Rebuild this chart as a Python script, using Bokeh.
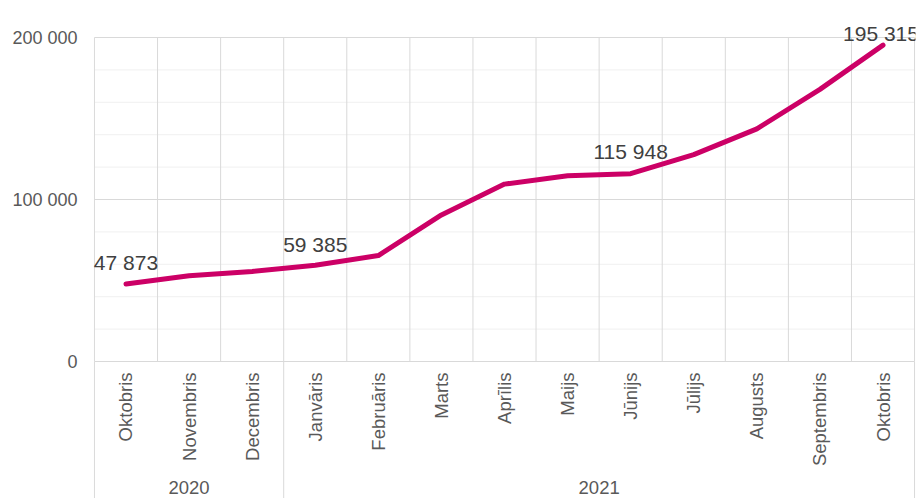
import math
from bokeh.plotting import figure
from bokeh.models import Range1d, FixedTicker
from bokeh.core.properties import value
from bokeh.embed import file_html
from bokeh.resources import INLINE

# ---- data ----
years = ["2020", "2020", "2020", "2021", "2021", "2021", "2021", "2021", "2021",
         "2021", "2021", "2021", "2021"]
months = ["Oktobris", "Novembris", "Decembris", "Janvāris", "Februāris", "Marts",
          "Aprīlis", "Maijs", "Jūnijs", "Jūlijs", "Augusts", "Septembris", "Oktobris"]
counts = [47873, 52900, 55600, 59385, 65400, 90500, 109500, 114600, 115948,
          127700, 143600, 168000, 195315]
labelled_idx = [0, 3, 8, 12]
y_ticks = [0, 100000, 200000]
y_tick_labels = ["0", "100 000", "200 000"]
minor_ticks = [20000, 40000, 60000, 80000, 120000, 140000, 160000, 180000]

FONT = value("Liberation Sans")
GRID = "#d9d9d9"
MINOR = "#f0f0f0"
AXIS_TXT = "#595959"

n = len(months)
Y0, Y1 = -84568, 222840

p = figure(width=921, height=498,
           x_range=Range1d(-0.015, n + 0.015), y_range=Range1d(Y0, Y1),
           x_axis_location=None, y_axis_location="left",
           toolbar_location=None, output_backend="svg",
           min_border_left=93, min_border_right=6,
           min_border_top=0, min_border_bottom=0)
p.outline_line_color = None
p.grid.visible = False
p.background_fill_color = "white"

ax = p.yaxis[0]
ax.ticker = FixedTicker(ticks=y_ticks)
ax.major_label_overrides = {t: l for t, l in zip(y_ticks, y_tick_labels)}
ax.axis_line_color = None
ax.major_tick_line_color = None
ax.minor_tick_line_color = None
ax.major_tick_out = 0
ax.major_label_standoff = 16
ax.major_label_text_font = "Liberation Sans"
ax.major_label_text_font_size = "18px"
ax.major_label_text_color = AXIS_TXT

# horizontal grid (minor)
p.segment(x0=[0] * len(minor_ticks), x1=[n] * len(minor_ticks),
          y0=minor_ticks, y1=minor_ticks, line_color=MINOR, line_width=1)

# vertical grid at category boundaries
bounds = list(range(n + 1))
p.segment(x0=bounds, x1=bounds, y0=[y_ticks[0]] * len(bounds),
          y1=[y_ticks[-1]] * len(bounds), line_color=GRID, line_width=1)

# horizontal grid (major)
p.segment(x0=[0] * len(y_ticks), x1=[n] * len(y_ticks),
          y0=y_ticks, y1=y_ticks, line_color=GRID, line_width=1)

# year groups
groups = []
for i, y in enumerate(years):
    if not groups or groups[-1][0] != y:
        groups.append([y, i, i + 1])
    else:
        groups[-1][2] = i + 1
sep = sorted(set([g[1] for g in groups] + [g[2] for g in groups]))
p.segment(x0=sep, x1=sep, y0=[Y0] * len(sep), y1=[0] * len(sep),
          line_color=GRID, line_width=1)

xs = [i + 0.5 for i in range(n)]

# line
p.line(xs, counts, line_color="#cc0066", line_width=5,
       line_cap="round", line_join="round")

# month labels
p.text(x=xs, y=[0] * n, text=months, angle=math.pi / 2,
       text_align="right", text_baseline="middle", y_offset=11,
       text_font=FONT, text_font_size="18.5px", text_color=AXIS_TXT)

# year labels
p.text(x=[(g[1] + g[2]) / 2 for g in groups], y=[0] * len(groups),
       text=[g[0] for g in groups], text_align="center", text_baseline="top",
       y_offset=119, text_font=FONT, text_font_size="18.5px", text_color=AXIS_TXT)

# data labels
lab_y_off = [-21, -21, -22, -12]
lab_x_off = [0, 0, 0, -2]
p.text(x=[xs[i] for i in labelled_idx], y=[counts[i] for i in labelled_idx],
       text=[f"{counts[i]:,}".replace(",", " ") for i in labelled_idx],
       text_align="center", text_baseline="alphabetic",
       x_offset=lab_x_off, y_offset=lab_y_off,
       text_font=FONT, text_font_size="21px", text_color="#404040")

open("out.html", "w").write(file_html(p, INLINE))
